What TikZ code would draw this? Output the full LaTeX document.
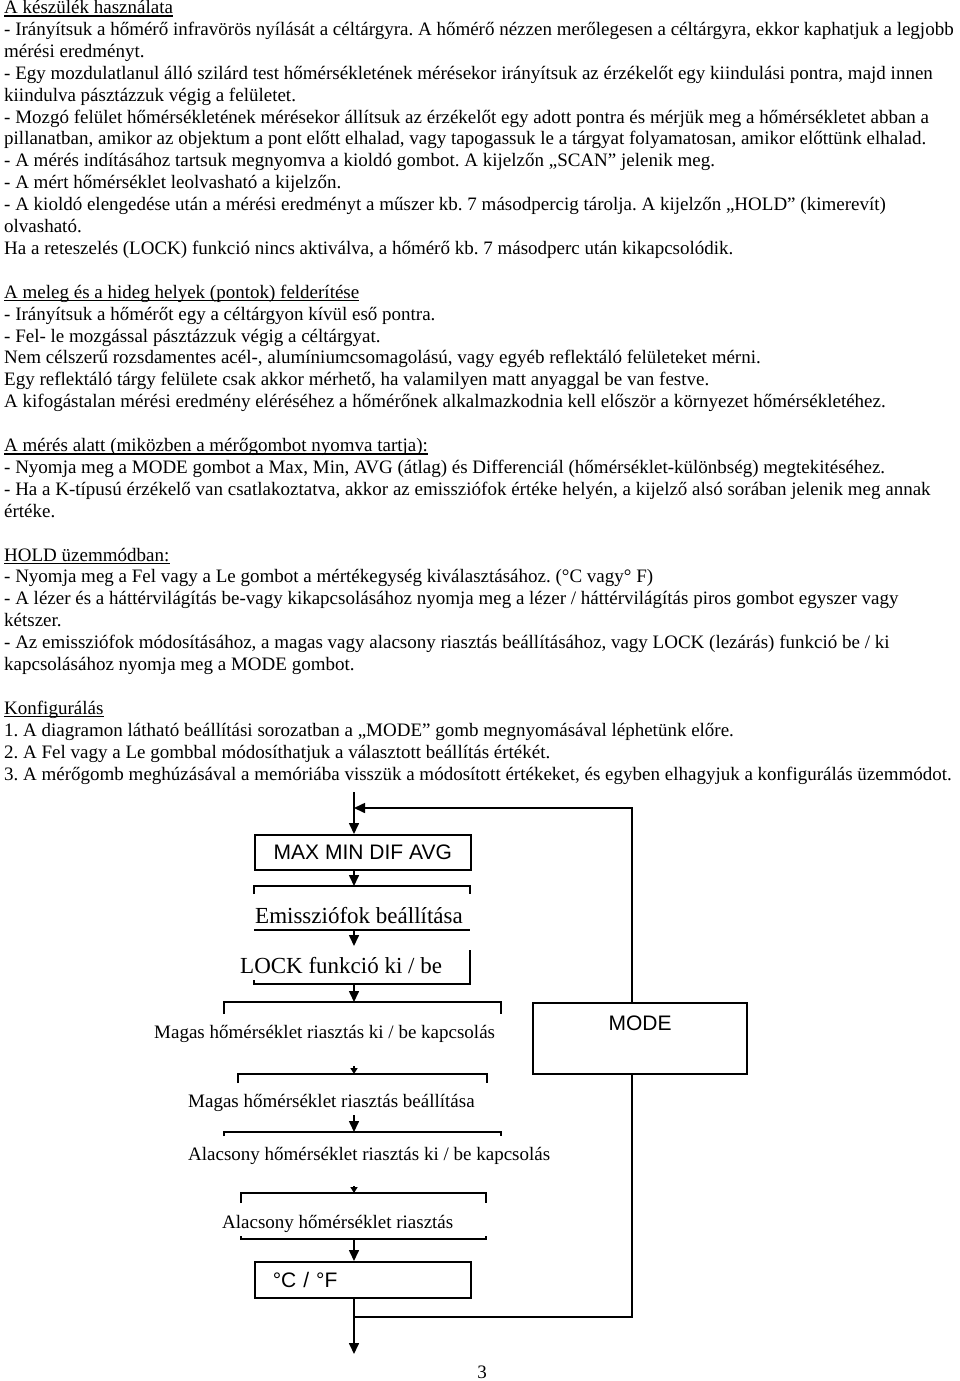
\documentclass[tikz,border=0pt]{standalone}
\usepackage{fontspec}
\setmainfont{Liberation Serif}
\newfontfamily\arialf{Liberation Sans}
\usetikzlibrary{arrows.meta}
\frenchspacing
\newcommand{\tline}[3]{\node[txt] (#1) at (4,{13.5+21.9*(#2)}) {#3};}
\begin{document}
\begin{tikzpicture}[x=1pt,y=-1pt,
  txt/.style={anchor=base west, inner sep=0pt, font=\fontsize{19}{22}\selectfont},
  dtxt/.style={anchor=base west, inner sep=0pt, font=\fontsize{19}{22}\selectfont},
  btxt/.style={anchor=base west, inner sep=0pt, font=\fontsize{23}{26}\selectfont},
  stxt/.style={inner sep=0pt, font=\arialf\fontsize{21}{24}\selectfont},
  uline/.style={line width=1.1pt},
  ln/.style={line width=1.6pt},
  arr/.style={ln, -{Triangle[width=10pt,length=11pt]}},
  sarr/.style={ln, -{Triangle[width=7pt,length=6pt]}},
  box/.style={draw, ln, inner sep=0pt}]
\fill[white] (0,0) rectangle (960,1381);
\useasboundingbox (0,0) rectangle (960,1381);

% ---------- text ----------
\tline{h0}{0}{A készülék használata}
\tline{l1}{1}{- Irányítsuk a hőmérő infravörös nyílását a céltárgyra. A hőmérő nézzen merőlegesen a céltárgyra, ekkor kaphatjuk a legjobb}
\tline{l2}{2}{mérési eredményt.}
\tline{l3}{3}{- Egy mozdulatlanul álló szilárd test hőmérsékletének mérésekor irányítsuk az érzékelőt egy kiindulási pontra, majd innen}
\tline{l4}{4}{kiindulva pásztázzuk végig a felületet.}
\tline{l5}{5}{- Mozgó felület hőmérsékletének mérésekor állítsuk az érzékelőt egy adott pontra és mérjük meg a hőmérsékletet abban a}
\tline{l6}{6}{pillanatban, amikor az objektum a pont előtt elhalad, vagy tapogassuk le a tárgyat folyamatosan, amikor előttünk elhalad.}
\tline{l7}{7}{- A mérés indításához tartsuk megnyomva a kioldó gombot. A kijelzőn „SCAN” jelenik meg.}
\tline{l8}{8}{- A mért hőmérséklet leolvasható a kijelzőn.}
\tline{l9}{9}{- A kioldó elengedése után a mérési eredményt a műszer kb. 7 másodpercig tárolja. A kijelzőn „HOLD” (kimerevít)}
\tline{l10}{10}{olvasható.}
\tline{l11}{11}{Ha a reteszelés (LOCK) funkció nincs aktiválva, a hőmérő kb. 7 másodperc után kikapcsolódik.}
\tline{h13}{13}{A meleg és a hideg helyek (pontok) felderítése}
\tline{l14}{14}{- Irányítsuk a hőmérőt egy a céltárgyon kívül eső pontra.}
\tline{l15}{15}{- Fel- le mozgással pásztázzuk végig a céltárgyat.}
\tline{l16}{16}{Nem célszerű rozsdamentes acél-, alumíniumcsomagolású, vagy egyéb reflektáló felületeket mérni.}
\tline{l17}{17}{Egy reflektáló tárgy felülete csak akkor mérhető, ha valamilyen matt anyaggal be van festve.}
\tline{l18}{18}{A kifogástalan mérési eredmény eléréséhez a hőmérőnek alkalmazkodnia kell először a környezet hőmérsékletéhez.}
\tline{h20}{20}{A mérés alatt (miközben a mérőgombot nyomva tartja):}
\tline{l21}{21}{- Nyomja meg a MODE gombot a Max, Min, AVG (átlag) és Differenciál (hőmérséklet-különbség) megtekitéséhez.}
\tline{l22}{22}{- Ha a K-típusú érzékelő van csatlakoztatva, akkor az emissziófok értéke helyén, a kijelző alsó sorában jelenik meg annak}
\tline{l23}{23}{értéke.}
\tline{h25}{25}{HOLD üzemmódban:}
\tline{l26}{26}{- Nyomja meg a Fel vagy a Le gombot a mértékegység kiválasztásához. (°C vagy° F)}
\tline{l27}{27}{- A lézer és a háttérvilágítás be-vagy kikapcsolásához nyomja meg a lézer / háttérvilágítás piros gombot egyszer vagy}
\tline{l28}{28}{kétszer.}
\tline{l29}{29}{- Az emissziófok módosításához, a magas vagy alacsony riasztás beállításához, vagy LOCK (lezárás) funkció be / ki}
\tline{l30}{30}{kapcsolásához nyomja meg a MODE gombot.}
\tline{h32}{32}{Konfigurálás}
\tline{l33}{33}{1. A diagramon látható beállítási sorozatban a „MODE” gomb megnyomásával léphetünk előre.}
\tline{l34}{34}{2. A Fel vagy a Le gombbal módosíthatjuk a választott beállítás értékét.}
\tline{l35}{35}{3. A mérőgomb meghúzásával a memóriába visszük a módosított értékeket, és egyben elhagyjuk a konfigurálás üzemmódot.}

\foreach \h in {h0,h13,h20,h25,h32}
  \draw[uline] ([yshift=-2.5pt]\h.base west) -- ([yshift=-2.5pt]\h.base east);

% ---------- diagram ----------
\node[box, anchor=north west, minimum width=216pt, minimum height=35pt, font=\arialf\fontsize{21}{24}\selectfont] (max) at (254,834) {MAX MIN DIF AVG};
\node[btxt, anchor=base] (emi) at (359,923) {Emissziófok beállítása};
\node[btxt] (lock) at (240,973) {LOCK funkció ki / be};
\node[dtxt] (hiab) at (154,1038) {Magas hőmérséklet riasztás ki / be kapcsolás};
\node[dtxt] (hia) at (188,1107) {Magas hőmérséklet riasztás beállítása};
\node[dtxt] (loab) at (188,1160) {Alacsony hőmérséklet riasztás ki / be kapcsolás};
\node[dtxt] (loa) at (222,1228) {Alacsony hőmérséklet riasztás};
\node[box, anchor=north west, minimum height=36pt, text width=180pt, inner xsep=18pt, align=left, font=\arialf\fontsize{21}{24}\selectfont] (cf) at (254,1261) {°C / °F};
\node[box, anchor=north west, minimum width=214pt, minimum height=71pt] (mode) at (532,1002) {};
\node[stxt, anchor=base] (modet) at (640,1030) {MODE};
\node[anchor=base, inner sep=0pt, font=\fontsize{19}{22}\selectfont] (pg) at (482,1378) {3};

% bracket frames
\draw[ln] (254,894) -- (254,886) -- (470,886) -- (470,894);
\draw[ln] (254,930) -- (470,930);
\draw[ln] (470,950) -- (470,984) -- (254,984) -- (254,980);
\draw[ln] (224,1014) -- (224,1002) -- (501,1002) -- (501,1014);
\draw[ln] (238,1083) -- (238,1074) -- (487,1074) -- (487,1083);
\draw[ln] (224,1136) -- (224,1132) -- (501,1132) -- (501,1136);
\draw[ln] (241,1203) -- (241,1193) -- (486,1193) -- (486,1203);
\draw[ln] (241,1236) -- (241,1239) -- (486,1239) -- (486,1236);

% connectors
\coordinate (c0) at (354,792);
\coordinate (j) at (354,808);
\coordinate (rt) at (632,808);
\coordinate (rb) at (632,1317);
\coordinate (jb) at (354,1317);
\coordinate (emiT) at (354,886);
\coordinate (emiB) at (354,930);
\coordinate (lockT) at (354,946);
\coordinate (lockB) at (354,984);
\coordinate (hiabT) at (354,1002);
\coordinate (s1a) at (354,1066);
\coordinate (hiaT) at (354,1074);
\coordinate (hiaB) at (354,1115);
\coordinate (loabT) at (354,1132);
\coordinate (s2a) at (354,1186);
\coordinate (loaT) at (354,1193);
\coordinate (loaB) at (354,1239);
\coordinate (endp) at (354,1354);

\draw[arr] (c0) -- (max.north -| c0);
\draw[arr] (max.south -| c0) -- (emiT);
\draw[arr] (emiB) -- (lockT);
\draw[arr] (lockB) -- (hiabT);
\draw[sarr] (s1a) -- (hiaT);
\draw[arr] (hiaB) -- (loabT);
\draw[sarr] (s2a) -- (loaT);
\draw[arr] (loaB) -- (cf.north -| c0);
\draw[arr] (cf.south -| c0) -- (endp);
\draw[arr] (mode.north -| rt) -- (rt) -- (j);
\draw[ln] (mode.south -| rb) -- (rb) -- (jb);
\end{tikzpicture}
\end{document}
